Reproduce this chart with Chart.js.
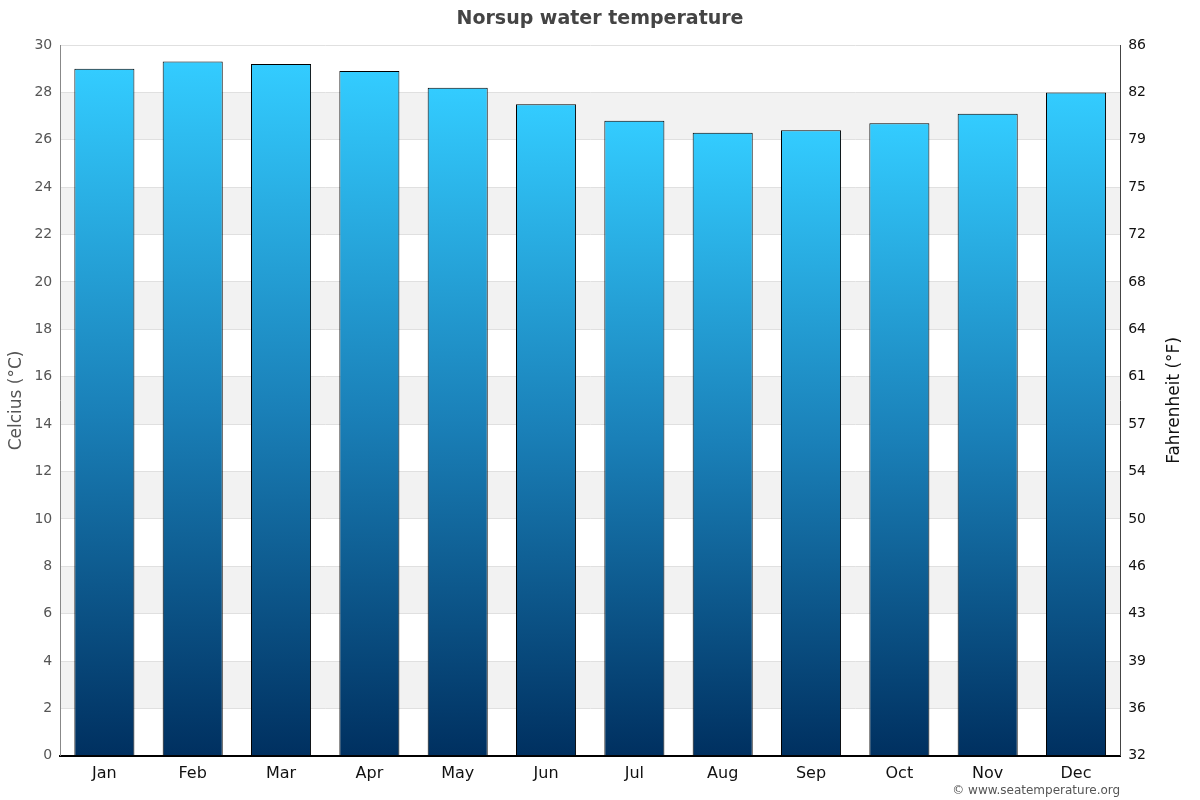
<!DOCTYPE html>
<html>
<head>
<meta charset="utf-8">
<script src="https://cdn.jsdelivr.net/npm/chart.js@4/dist/chart.umd.min.js"></script>
<style>
    html, body { margin: 0; padding: 0; background: #fff; }
    #wrap { width: 1200px; height: 800px; }
</style>
</head>
<body>
<div id="wrap"><canvas id="chart"></canvas></div>
<script>
// Chart data
const months = ['Jan', 'Feb', 'Mar', 'Apr', 'May', 'Jun', 'Jul', 'Aug', 'Sep', 'Oct', 'Nov', 'Dec'];
const waterTempC = [29.0, 29.3, 29.2, 28.9, 28.2, 27.5, 26.8, 26.3, 26.4, 26.7, 27.1, 28.0];
const fahrenheitLabels = ['32', '36', '39', '43', '46', '50', '54', '57', '61', '64', '68', '72', '75', '79', '82', '86'];

const FONT = '"DejaVu Sans", Verdana, sans-serif';

// Alternating grey bands behind the bars
const bandPlugin = {
    id: 'bands',
    beforeDraw(chart) {
        const { ctx, chartArea, scales } = chart;
        const y = scales.y;
        ctx.save();
        ctx.fillStyle = '#f2f2f2';
        for (let v = 2; v < 30; v += 4) {
            const top = y.getPixelForValue(v + 2);
            const bottom = y.getPixelForValue(v);
            ctx.fillRect(chartArea.left, top, chartArea.right - chartArea.left, bottom - top);
        }
        ctx.restore();
    }
};

// Title centred on the page, copyright line, right axis title (bottom to top)
const extrasPlugin = {
    id: 'extras',
    afterDraw(chart) {
        const { ctx, chartArea, width } = chart;
        ctx.save();
        ctx.font = 'bold 19px ' + FONT;
        ctx.fillStyle = '#444';
        ctx.textAlign = 'center';
        ctx.textBaseline = 'middle';
        ctx.fillText('Norsup water temperature', width / 2, 19);

        ctx.font = '12px ' + FONT;
        ctx.fillStyle = '#555';
        ctx.textAlign = 'right';
        ctx.fillText('\u00a9 www.seatemperature.org', chartArea.right, 791);

        ctx.translate(1175, (chartArea.top + chartArea.bottom) / 2);
        ctx.rotate(-Math.PI / 2);
        ctx.font = '17px ' + FONT;
        ctx.fillStyle = '#111';
        ctx.textAlign = 'center';
        ctx.fillText('Fahrenheit (°F)', 0, 0);
        ctx.restore();
    }
};

// Per-bar vertical gradient
const barGradient = (context) => {
    const chart = context.chart;
    const { ctx, chartArea, scales } = chart;
    if (!chartArea) return '#1a8acc';
    const top = scales.y.getPixelForValue(context.raw);
    const bottom = scales.y.getPixelForValue(0);
    const g = ctx.createLinearGradient(0, top, 0, bottom);
    g.addColorStop(0, '#33ccff');
    g.addColorStop(0.5, '#1a80b8');
    g.addColorStop(1, '#003060');
    return g;
};

new Chart(document.getElementById('chart'), {
    type: 'bar',
    data: {
        labels: months,
        datasets: [{
            label: 'Water temperature',
            data: waterTempC,
            backgroundColor: barGradient,
            borderColor: '#000',
            borderWidth: 1,
            borderSkipped: 'bottom',
            categoryPercentage: 0.68,
            barPercentage: 1.0
        }]
    },
    options: {
        responsive: true,
        maintainAspectRatio: false,
        animation: false,
        layout: {
            padding: { left: 6, right: 46, top: 45, bottom: 9 }
        },
        plugins: {
            legend: { display: false },
            tooltip: { enabled: false },
            title: { display: false }
        },
        scales: {
            x: {
                grid: { display: false, drawTicks: false },
                border: { color: '#000', width: 2 },
                ticks: {
                    color: '#111',
                    padding: 8,
                    font: { family: FONT, size: 16 }
                }
            },
            y: {
                position: 'left',
                min: 0,
                max: 30,
                grid: { color: '#e0e0e0', drawTicks: false },
                border: { color: '#888', width: 1 },
                title: {
                    display: true,
                    text: 'Celcius (°C)',
                    color: '#555',
                    font: { family: FONT, size: 17 },
                    padding: { top: 0, bottom: 0 }
                },
                ticks: {
                    stepSize: 2,
                    color: '#555',
                    padding: 8,
                    font: { family: FONT, size: 14 }
                }
            },
            y2: {
                display: true,
                position: 'right',
                min: 0,
                max: 30,
                grid: { display: false, drawTicks: false },
                border: { color: '#444', width: 1 },
                ticks: {
                    stepSize: 2,
                    color: '#111',
                    padding: 8,
                    font: { family: FONT, size: 14 },
                    callback: (value) => fahrenheitLabels[value / 2]
                }
            }
        }
    },
    plugins: [bandPlugin, extrasPlugin]
});
</script>
</body>
</html>
